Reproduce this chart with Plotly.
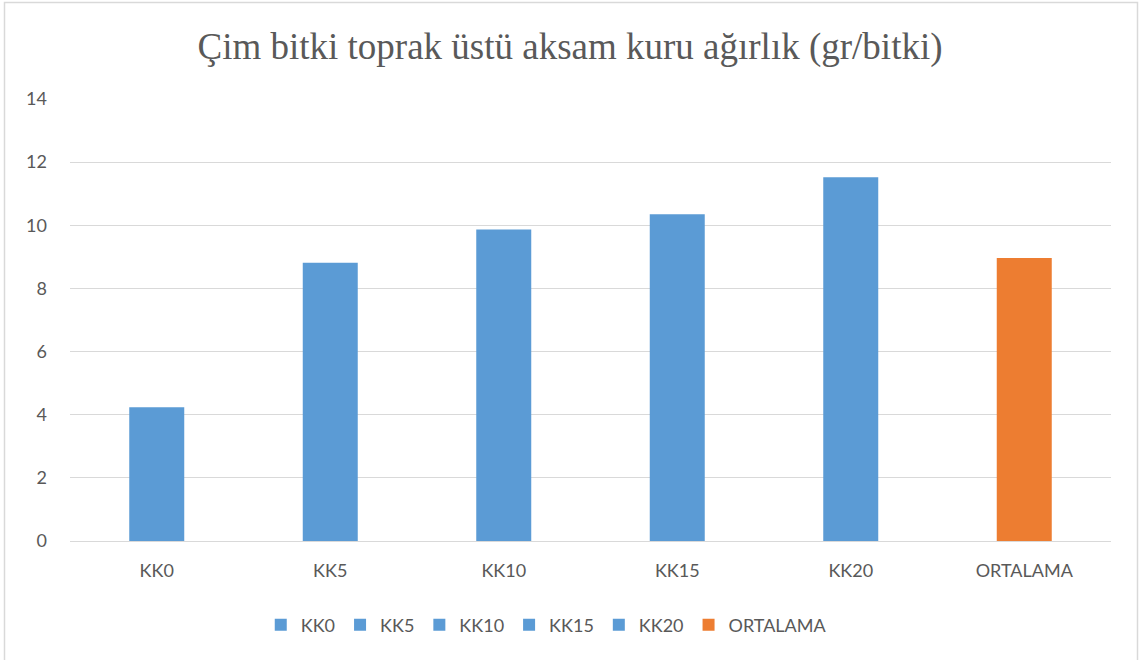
import plotly.graph_objects as go

categories = ["KK0", "KK5", "KK10", "KK15", "KK20", "ORTALAMA"]
values = [4.24, 8.81, 9.87, 10.35, 11.52, 8.96]
colors = ["#5B9BD5", "#5B9BD5", "#5B9BD5", "#5B9BD5", "#5B9BD5", "#ED7D31"]
y_ticks = [0, 2, 4, 6, 8, 10, 12, 14]

W, H = 1140, 660
ML, MR, MT, MB = 70, 29, 99, 119
PW, PH = W - ML - MR, H - MT - MB

fig = go.Figure()
for c, v, col in zip(categories, values, colors):
    fig.add_trace(go.Bar(x=[c], y=[v], name=c, marker=dict(color=col, line=dict(width=0)),
                         width=0.317))

def px_x(p):
    return (p - ML) / PW

def px_y(p):
    return (H - MB - p) / PH

fig.add_shape(type="rect", xref="paper", yref="paper",
              x0=px_x(4.5), x1=px_x(1137.5), y0=px_y(666), y1=px_y(2.5),
              line=dict(color="#D9D9D9", width=1.5), fillcolor="rgba(0,0,0,0)", layer="below")

fig.update_layout(
    width=W, height=H,
    margin=dict(l=ML, r=MR, t=MT, b=MB),
    paper_bgcolor="white", plot_bgcolor="white",
    barmode="overlay",
    title=dict(text="Çim bitki toprak üstü aksam kuru ağırlık (gr/bitki)",
               x=0.5, xanchor="center", y=1 - 46 / H, yanchor="middle",
               font=dict(family="Liberation Serif", size=37, color="#595959")),
    font=dict(family="Lato, Open Sans, sans-serif", size=18, color="#595959"),
    xaxis=dict(categoryorder="array", categoryarray=categories, showgrid=False,
               showline=False, zeroline=False, ticks="", ticklabelstandoff=17,
               tickfont=dict(size=18, color="#595959")),
    yaxis=dict(range=[0, 14], tickvals=y_ticks, showgrid=True, gridcolor="#D9D9D9",
               gridwidth=1, zeroline=True, zerolinecolor="#D9D9D9", zerolinewidth=1,
               showline=False, ticks="", ticklabelstandoff=22,
               tickfont=dict(size=18, color="#595959")),
    legend=dict(orientation="h", x=0.4575, xanchor="center", y=px_y(625), yanchor="middle",
                font=dict(size=18, color="#595959"), itemwidth=30, traceorder="normal",
                itemclick=False),
    showlegend=True,
)

fig.write_html("out.html", config={"displayModeBar": False},
               post_script="document.body.style.margin='0';")
